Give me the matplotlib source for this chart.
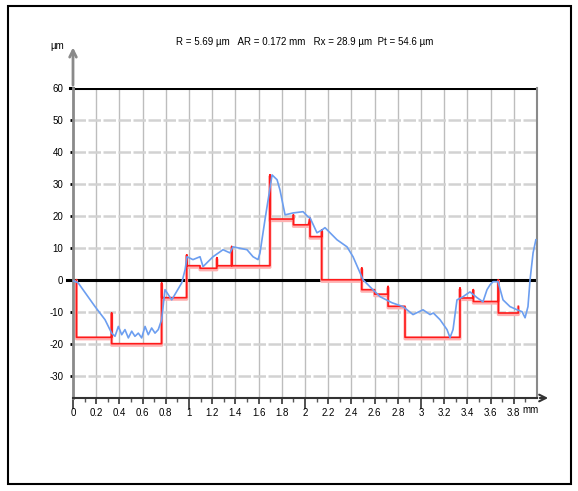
import matplotlib.pyplot as plt
import numpy as np
from matplotlib.patches import Rectangle

plt.rcParams['font.family'] = ['Liberation Sans Narrow', 'Liberation Sans', 'DejaVu Sans']

# measured profile (mm, um)
prof_x = [0.0, 0.043, 0.19, 0.276, 0.333, 0.362, 0.391, 0.42, 0.448, 0.477, 0.506, 0.534,
          0.563, 0.592, 0.621, 0.649, 0.678, 0.707, 0.735, 0.764, 0.793, 0.851, 0.937, 0.966,
          0.983, 1.034, 1.095, 1.121, 1.207, 1.293, 1.353, 1.379, 1.5, 1.552, 1.595, 1.612,
          1.655, 1.716, 1.759, 1.784, 1.828, 1.897, 1.983, 2.026, 2.043, 2.103, 2.147, 2.172,
          2.276, 2.362, 2.414, 2.474, 2.5, 2.56, 2.647, 2.75, 2.845, 2.931, 3.017, 3.078,
          3.106, 3.164, 3.224, 3.25, 3.276, 3.31, 3.362, 3.422, 3.483, 3.534, 3.569, 3.595,
          3.621, 3.664, 3.707, 3.767, 3.828, 3.871, 3.897, 3.922, 3.94, 3.966, 3.99]
prof_y = [-0.3, -0.9, -8.4, -12.5, -16.7, -17.7, -14.6, -17.2, -15.6, -18.2, -16.1, -17.7,
          -16.7, -18.2, -14.6, -17.2, -15.1, -16.7, -15.6, -12.5, -3.1, -6.3, -1.0, 3.1,
          7.2, 6.3, 7.2, 4.1, 7.2, 9.4, 8.4, 10.3, 9.4, 7.2, 6.3, 8.4,
          18.8, 32.8, 31.3, 28.1, 20.3, 20.9, 21.3, 19.7, 19.4, 14.7, 15.6, 16.3,
          12.5, 10.3, 7.2, 2.2, 0.0, -2.2, -5.3, -7.2, -8.4, -10.9, -9.4, -10.9,
          -10.4, -12.5, -15.6, -18.1, -15.6, -6.3, -5.3, -3.8, -5.6, -6.9, -3.1, -1.6,
          -0.6, -0.6, -6.3, -8.4, -9.4, -10.0, -11.9, -8.4, 0.0, 8.4, 12.5]

# roughness motifs (step outline)
motif_x = [0.03, 0.03, 0.333, 0.333, 0.333, 0.764, 0.764, 0.764, 0.98, 0.98, 0.98, 1.095,
           1.095, 1.24, 1.24, 1.24, 1.368, 1.368, 1.368, 1.698, 1.698, 1.698, 1.9, 1.9,
           1.9, 2.03, 2.043, 2.043, 2.144, 2.144, 2.144, 2.489, 2.489, 2.489, 2.6, 2.6,
           2.716, 2.716, 2.716, 2.862, 2.862, 3.336, 3.336, 3.336, 3.451, 3.451, 3.451,
           3.667, 3.667, 3.667, 3.839, 3.839]
motif_y = [0.0, -18.0, -18.0, -10.4, -20.0, -20.0, -1.0, -5.6, -5.6, 7.8, 4.4, 4.4,
           3.6, 3.6, 6.9, 4.4, 4.4, 10.4, 4.4, 4.4, 32.8, 19.0, 19.0, 20.3,
           17.2, 17.2, 19.4, 13.5, 13.5, 15.6, 0.0, 0.0, 3.7, -3.1, -3.1, -4.5,
           -4.5, -2.1, -8.3, -8.3, -18.0, -18.0, -2.6, -5.7, -5.7, -3.1, -6.8,
           -6.8, 0.0, -10.4, -10.4, -8.3]

xticks = np.round(np.arange(0, 3.81, 0.2), 1)
xlabels = ['0' if t == 0 else ('%d' % t if t == int(t) else '%g' % t) for t in xticks]
yticks = [60, 50, 40, 30, 20, 10, 0, -10, -20, -30]
title = 'R = 5.69 µm   AR = 0.172 mm   Rx = 28.9 µm  Pt = 54.6 µm'

fig = plt.figure(figsize=(5.78, 4.91), dpi=100)
ax = fig.add_axes([0.1263, 0.1894, 0.8028, 0.6314])
ax.set_xlim(0, 4.0)
ax.set_ylim(-37, 60)

for t in np.arange(0.2, 4.0, 0.2):
    ax.axvline(t, color='#bdbdbd', lw=1.0, zorder=1)
for t in yticks:
    if t not in (0, 60):
        ax.axhline(t, color='#d2d2d2', lw=1.8, ls=(0, (5, 1)), zorder=1)

ax.axhline(0, color='black', lw=2.2, zorder=2)
ax.axhline(60, color='black', lw=2.2, zorder=2)
ax.plot([-0.05, 0], [0, 0], color='black', lw=2.2, clip_on=False)
ax.plot([-0.03, 0], [60, 60], color='black', lw=2.2, clip_on=False)

ax.plot(motif_x, np.array(motif_y) - 0.5, color='#ffb0b0', lw=2.2, zorder=3)
ax.plot(motif_x, motif_y, color='#ff1a1a', lw=1.2, zorder=4)
ax.plot(prof_x, prof_y, color='#6c9ef0', lw=1.2, zorder=5)

ax.spines['top'].set_visible(False)
ax.spines['left'].set_color('#8a8a8a')
ax.spines['left'].set_linewidth(2)
ax.spines['right'].set_color('#8a8a8a')
ax.spines['right'].set_linewidth(1.5)
ax.spines['bottom'].set_color('#333333')
ax.spines['bottom'].set_linewidth(1.5)

ax.set_yticks(yticks)
ax.set_yticklabels([str(v) for v in yticks], fontsize=7)
ax.tick_params(axis='y', length=2, width=2, color='black', pad=5)
ax.set_xticks(xticks)
ax.set_xticklabels(xlabels, fontsize=7)
ax.set_xticks(np.arange(0, 4.0, 0.1), minor=True)
ax.tick_params(axis='x', which='major', length=4, width=1.2, color='#333333', pad=3)
ax.tick_params(axis='x', which='minor', length=3, width=1, color='#555555')
for tk, t in zip(ax.xaxis.get_major_ticks(), xticks):
    if t == int(t):
        tk.tick1line.set_markersize(8)

# axis arrows
ax.annotate('', xy=(0, 1.14), xytext=(0, 1.0), xycoords='axes fraction',
            arrowprops=dict(arrowstyle='->', color='#8a8a8a', lw=2, mutation_scale=12),
            annotation_clip=False)
ax.annotate('', xy=(1.03, 0), xytext=(1.0, 0), xycoords='axes fraction',
            arrowprops=dict(arrowstyle='->', color='#333333', lw=1.5, mutation_scale=12),
            annotation_clip=False)
ax.text(-0.035, 1.135, 'µm', transform=ax.transAxes, fontsize=7, ha='center', va='center')
ax.text(3.87, -39.2, 'mm', fontsize=7, ha='left', va='top')

fig.text(0.528, 0.915, title, fontsize=7, ha='center', va='center')
fig.patches.append(Rectangle((0.013, 0.014), 0.975, 0.973, transform=fig.transFigure,
                             fill=False, edgecolor='black', lw=1.5))

fig.savefig('out.png', dpi=100)
